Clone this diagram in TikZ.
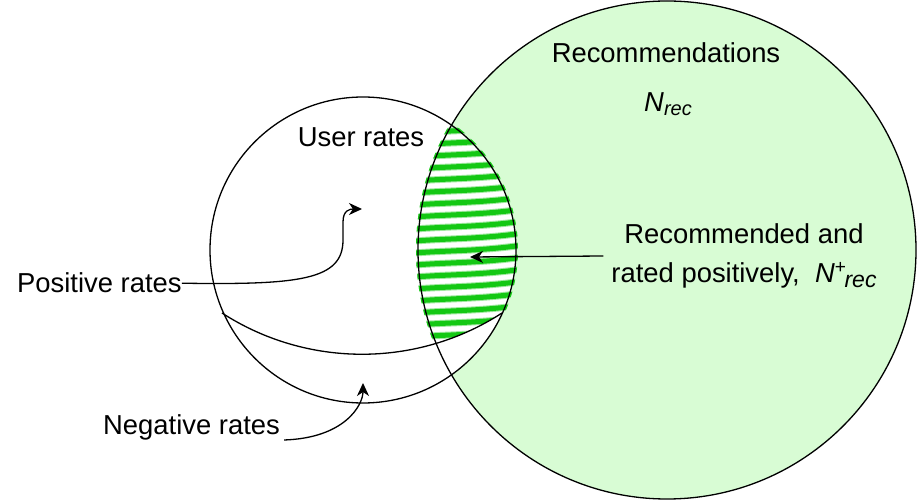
\documentclass[tikz,border=0pt]{standalone}
\usepackage{fontspec}
\setmainfont{Liberation Sans}
\usetikzlibrary{arrows.meta}
\definecolor{recgreen}{RGB}{216,252,212}
\definecolor{hatchgreen}{RGB}{20,200,20}

\begin{document}
\begin{tikzpicture}[x=1pt, y=-1pt,
  lbl/.style={font=\fontsize{27.4}{39}\selectfont, inner sep=0pt},
  arr/.style={-{Stealth[length=13pt, width=12pt, inset=4pt]}, line width=1.3pt},
  rim/.style={draw=black, line width=1.3pt},
  stripe/.style={hatchgreen, line cap=round}
]
  \useasboundingbox (0,0) rectangle (919,502);
  \fill[recgreen] (667,250) circle (249);
  \fill[white] (363,250) circle (153);
  \coordinate (sepleft) at (222,313);
  \coordinate (sepright) at (502,313);
  \begin{scope}
    \clip (363,250) circle (155);
    \clip (667,250) circle (251);
    \clip (sepleft) .. controls (307,368) and (417,368) .. (sepright) -- (560,313) -- (560,100) -- (200,100) -- cycle;
    \foreach \y in {129,141,...,350} {
      \draw[stripe, hatchgreen!40, line width=7pt] (405,\y+5) .. controls (440,\y+1) and (480,\y+3) .. (530,\y-5);
      \draw[stripe, line width=5pt] (405,\y+5) .. controls (440,\y+1) and (480,\y+3) .. (530,\y-5);
    }
  \end{scope}
  \draw[rim] (667,250) circle (249);
  \draw[rim] (363,250) circle (153);
  \draw[rim] (sepleft) .. controls (307,368) and (417,368) .. (sepright);

  \node[lbl, anchor=base] (recs) at (666,63) {Recommendations};
  \node[lbl, anchor=base] (nrec) at (668,112) {\textit{N}\raisebox{-4pt}{\fontsize{20}{20}\selectfont\textit{rec}}};
  \node[lbl, anchor=base] (users) at (361,147) {User rates};
  \node[lbl, anchor=base west] (pos) at (17,293) {Positive rates};
  \node[lbl, anchor=base west] (neg) at (103,435) {Negative rates};
  \node[lbl, align=center, inner xsep=8pt] (both) at (744,256)
    {Recommended and\\rated positively,\ \ \textit{N}\textsuperscript{+}\hspace{-2pt}\raisebox{-5pt}{\fontsize{23}{23}\selectfont\textit{rec}}};

  \coordinate (postip) at (362,209);
  \coordinate (negtip) at (363,383);
  \coordinate (lenstip) at (470,257);
  \draw[arr] (pos.east) .. controls (300,285) and (343,280) .. (343,240) -- (343,222) .. controls (343,210) and (350,209) .. (postip);
  \draw[arr] ([xshift=4pt, yshift=-5pt]neg.base east) .. controls (345,438) and (363,405) .. (negtip);
  \draw[arr] (both.west) -- (lenstip);
\end{tikzpicture}
\end{document}
